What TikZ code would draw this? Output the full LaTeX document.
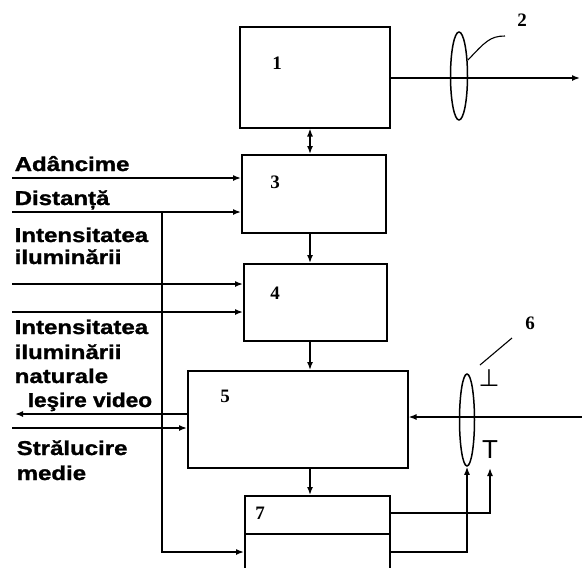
\documentclass[tikz,border=0pt]{standalone}
\usepackage{fontspec}
\setmainfont{Liberation Sans}[BoldFeatures={FakeBold=1.2}]
\newfontfamily\numfont{Liberation Serif}
\newfontfamily\symfont{DejaVu Sans}
\usetikzlibrary{arrows.meta,shapes.geometric}
\newcommand{\widetxt}[1]{\scalebox{1.2}[1]{#1}}
\begin{document}
\begin{tikzpicture}[x=1pt,y=-1pt, line width=1.5pt,
 blk/.style={draw, rectangle, inner sep=0pt, anchor=north west},
 lbl/.style={font=\fontsize{20}{20}\selectfont\bfseries, anchor=base west, inner sep=0pt},
 num/.style={font=\numfont\fontsize{19}{19}\selectfont\bfseries, inner sep=0pt},
 lens/.style={draw, ellipse, inner sep=0pt},
 arr/.style={-{Latex[length=8pt,width=6pt]}},
 darr/.style={{Latex[length=8pt,width=6pt]}-{Latex[length=8pt,width=6pt]}},
]
\useasboundingbox (0,0) rectangle (582,568);
% blocks
\node[blk, minimum width=150pt, minimum height=101pt] (b1) at (239,26) {};
\node[blk, minimum width=144pt, minimum height=78pt] (b3) at (241,154) {};
\node[blk, minimum width=143pt, minimum height=77pt] (b4) at (243,263) {};
\node[blk, minimum width=220pt, minimum height=97pt] (b5) at (187,370) {};
\node[blk, minimum width=145pt, minimum height=38pt] (b7t) at (244,495) {};
\node[blk, minimum width=145pt, minimum height=42pt] (b7b) at (244,533) {};
% block numbers
\node[num] (n1) at (277,63) {1};
\node[num] (n3) at (275,182) {3};
\node[num] (n4) at (275,293) {4};
\node[num] (n5) at (225,396) {5};
\node[num] (n7) at (260,513) {7};
\node[num] (n2) at (522,20) {2};
\node[num] (n6) at (530,323) {6};
% vertical chain
\coordinate (xa) at (310,0);
\draw[darr] (b1.south -| xa) -- (b3.north -| xa);
\draw[arr] (b3.south -| xa) -- (b4.north -| xa);
\draw[arr] (b4.south -| xa) -- (b5.north -| xa);
\draw[arr] (b5.south -| xa) -- (b7t.north -| xa);
% output of block 1 with lens 2
\node[lens, minimum width=17pt, minimum height=88pt] (lens2) at (459,76) {};
\coordinate (out2) at (580,78);
\draw[arr] (b1.east |- out2) -- (out2);
\coordinate (l2a) at (468,60);
\coordinate (l2b) at (505,36);
\draw[line width=1.1pt] (l2a) .. controls (485,42) and (490,36) .. (l2b);
% left inputs
\coordinate (inA) at (12,178);
\coordinate (inD) at (12,212);
\coordinate (jD) at (162,212);
\coordinate (inI1) at (12,284);
\coordinate (inI2) at (12,312);
\coordinate (outV) at (15,414);
\coordinate (inS) at (12,428);
\coordinate (y7) at (0,552);
\draw[arr] (inA) -- (b3.west |- inA);
\draw[arr] (inD) -- (b3.west |- inD);
\draw[arr] (jD) |- (b7b.west |- y7);
\draw[arr] (inI1) -- (b4.west |- inI1);
\draw[arr] (inI2) -- (b4.west |- inI2);
\draw[arr] (b5.west |- outV) -- (outV);
\draw[arr] (inS) -- (b5.west |- inS);
% left labels
\node[lbl] (tA) at (14,171) {\widetxt{Adâncime}};
\node[lbl] (tD) at (14,205) {\widetxt{Distanță}};
\node[lbl] (tI1) at (14,242) {\widetxt{Intensitatea}};
\node[lbl] (tI2) at (14,264) {\widetxt{iluminării}};
\node[lbl] (tN1) at (14,334) {\widetxt{Intensitatea}};
\node[lbl] (tN2) at (14,359) {\widetxt{iluminării}};
\node[lbl] (tN3) at (14,383) {\widetxt{naturale}};
\node[lbl] (tV) at (27,407) {\scalebox{1.13}[1]{Ieşire video}};
\node[lbl] (tS1) at (16,455) {\widetxt{Strălucire}};
\node[lbl] (tS2) at (16,480) {\widetxt{medie}};
% right side input with lens 6
\node[lens, minimum width=15pt, minimum height=92pt] (lens6) at (467,420) {};
\coordinate (inR) at (582,417);
\draw[arr] (inR) -- (b5.east |- inR);
\coordinate (l6a) at (480,365);
\coordinate (l6b) at (512,338);
\draw[line width=1.1pt] (l6a) -- (l6b);
\node[font=\symfont\fontsize{24}{24}\selectfont, inner sep=0pt] (perp) at (489,378) {⊥};
\node[font=\fontsize{26}{26}\selectfont, inner sep=0pt] (tee) at (490,450) {T};
% outputs of block 7
\coordinate (y7t) at (0,513);
\coordinate (cT) at (490,513);
\coordinate (cTe) at (490,468);
\draw[arr] (b7t.east |- y7t) -- (cT) -- (cTe);
\coordinate (cL) at (467,552);
\draw[arr] (b7b.east |- y7) -- (cL) -- (lens6.south);
\end{tikzpicture}
\end{document}
